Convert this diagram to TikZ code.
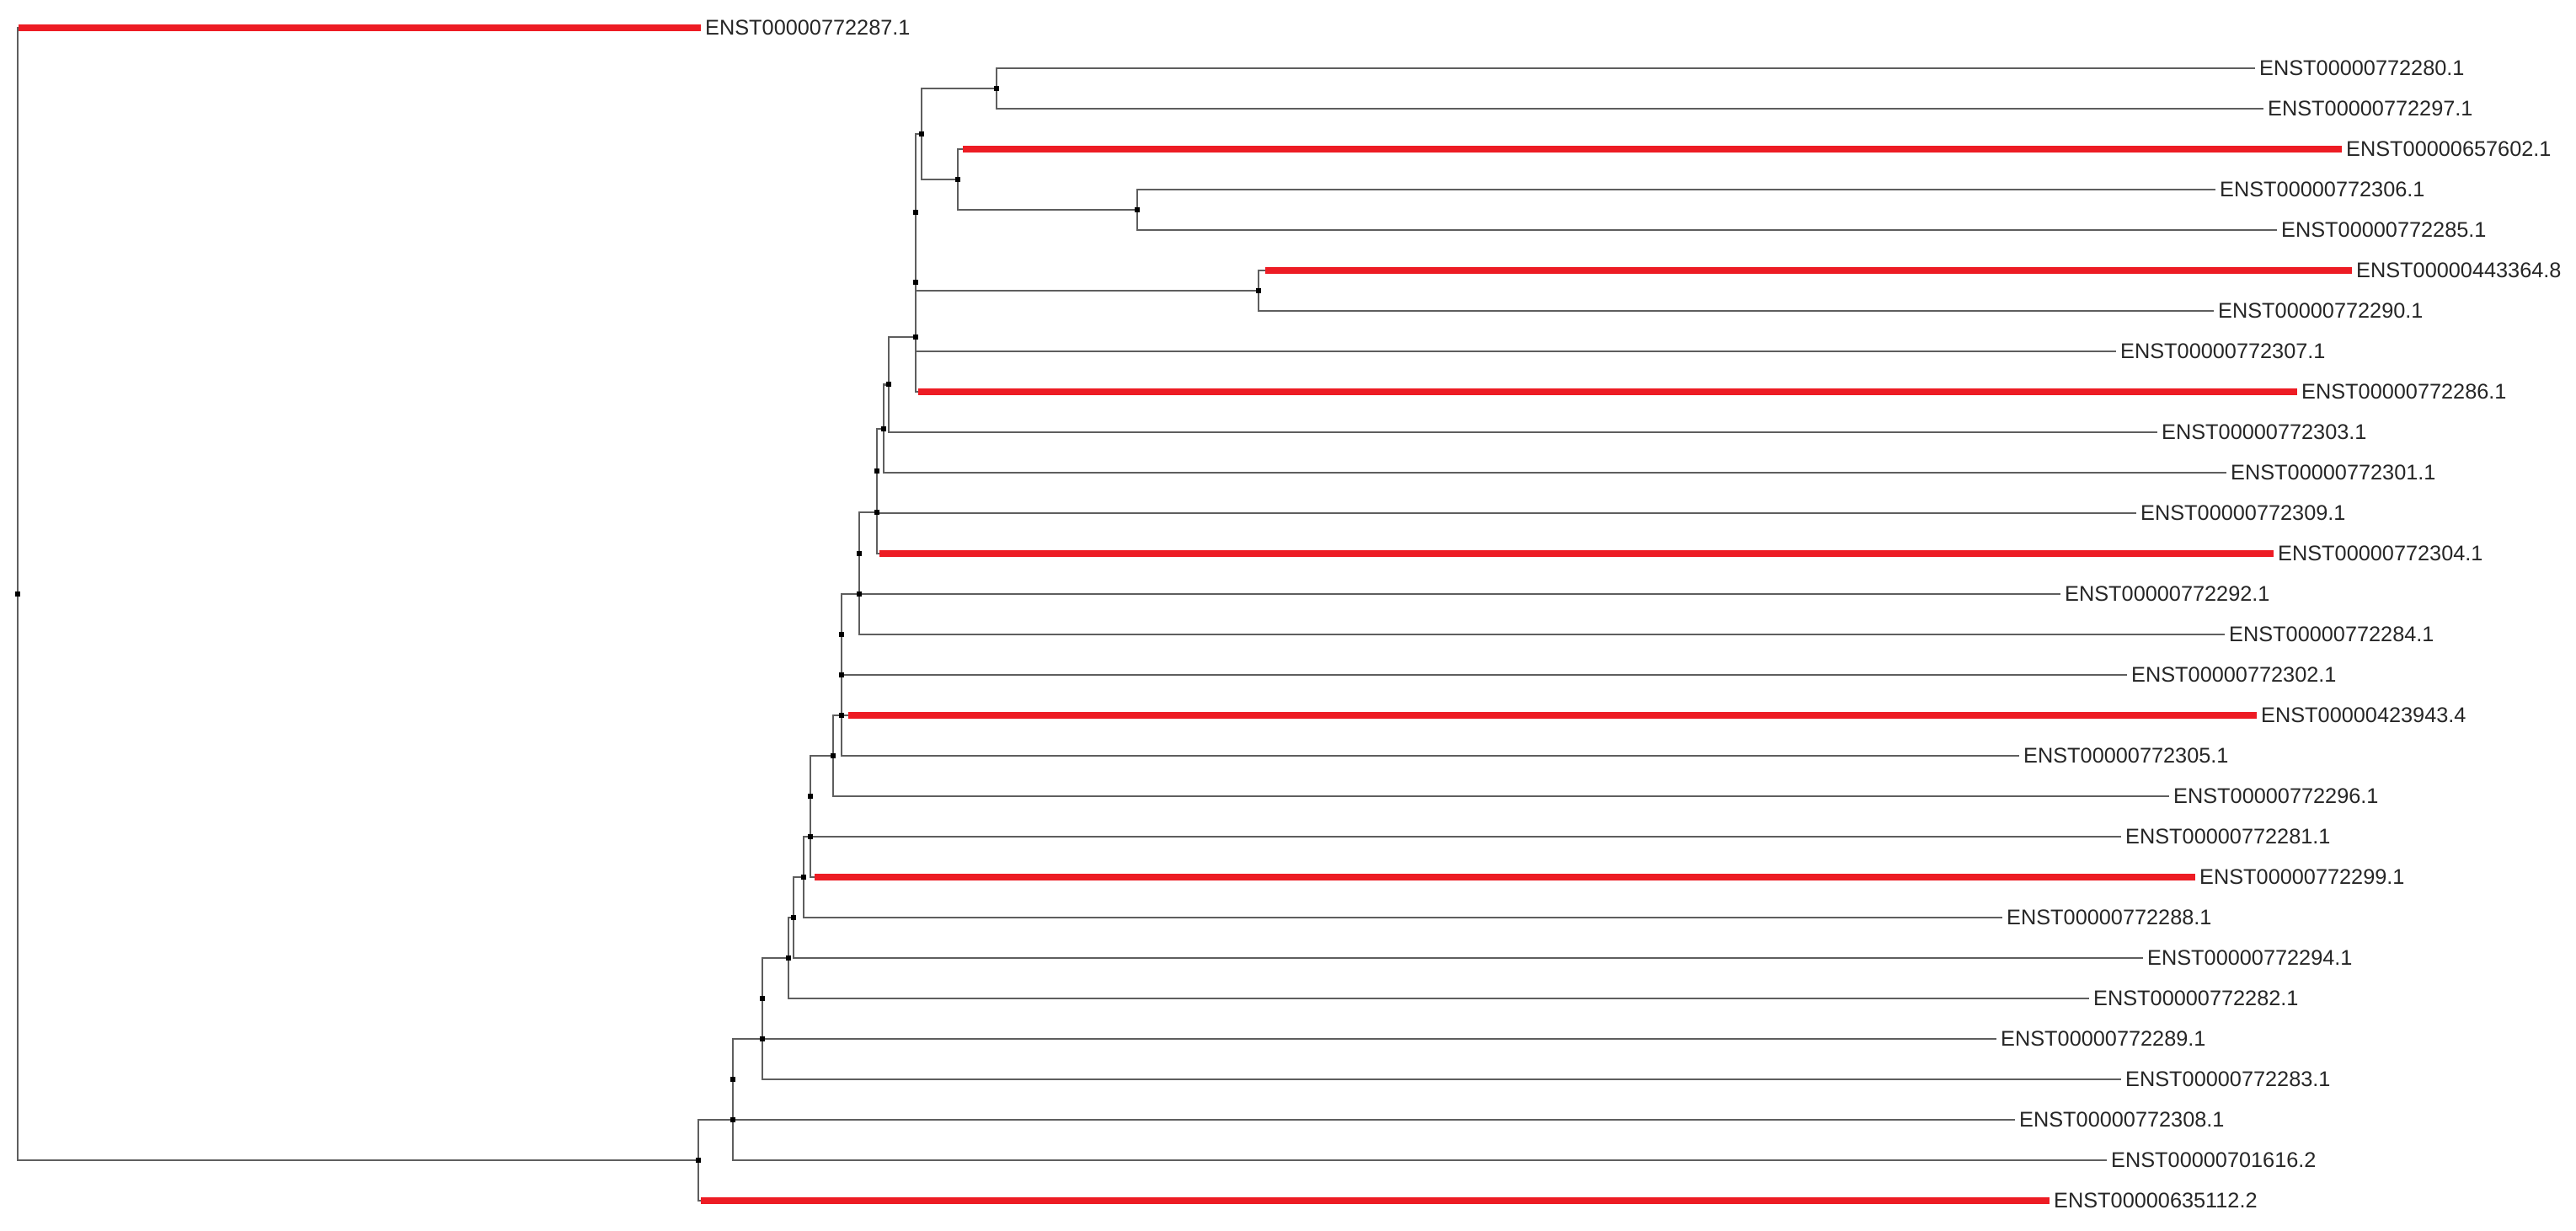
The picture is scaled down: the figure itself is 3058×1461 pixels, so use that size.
\documentclass[tikz,border=0pt]{standalone}
\usepackage{fontspec}
\setmainfont{Liberation Sans}
\usetikzlibrary{calc}
\definecolor{brgray}{HTML}{5E5E5E}
\definecolor{hired}{HTML}{ED1C24}
\begin{document}
\begin{tikzpicture}[x=1pt,y=-1pt,
  brline/.style={draw=brgray,line width=2.4pt,line join=miter,line cap=butt},
  redline/.style={draw=hired,line width=8pt,line cap=butt},
  ndot/.style={rectangle,fill=black,inner sep=0pt,minimum size=6pt},
  leaflab/.style={anchor=west,inner sep=0pt,xshift=5pt,font=\fontsize{25.3pt}{30pt}\selectfont,text=black!85}]
\useasboundingbox (0,0) rectangle (3058,1461);
% internal nodes
\coordinate (root) at (21,705);
\coordinate (nC) at (1183,105);
\coordinate (nE) at (1350,249);
\coordinate (nD) at (1137,213);
\coordinate (nA) at (1094,159);
\coordinate (nB) at (1494,345);
\coordinate (n1) at (1087,252);
\coordinate (n2) at (1087,334.5);
\coordinate (n3) at (1087,399.75);
\coordinate (n4) at (1055,456.4);
\coordinate (n5) at (1049,508.7);
\coordinate (n6) at (1041,558.8);
\coordinate (n7) at (1041,607.9);
\coordinate (n8) at (1020,656.5);
\coordinate (n9) at (1020,704.7);
\coordinate (n10) at (999,752.9);
\coordinate (n11) at (999,800.9);
\coordinate (n12) at (999,849);
\coordinate (n13) at (989,897);
\coordinate (n14) at (962,945);
\coordinate (n15) at (962,993);
\coordinate (n16) at (954,1041);
\coordinate (n17) at (942,1089);
\coordinate (n18) at (936,1137);
\coordinate (n19) at (905,1185);
\coordinate (n20) at (905,1233);
\coordinate (n21) at (870,1281);
\coordinate (n22) at (870,1329);
\coordinate (n23) at (829,1377);
% leaves
\foreach \i/\xe/\t in {1/832/772287.1,2/2677/772280.1,3/2687/772297.1,4/2780/657602.1,
  5/2630/772306.1,6/2703/772285.1,7/2792/443364.8,8/2628/772290.1,9/2512/772307.1,
  10/2727/772286.1,11/2561/772303.1,12/2643/772301.1,13/2536/772309.1,14/2699/772304.1,
  15/2446/772292.1,16/2641/772284.1,17/2525/772302.1,18/2679/423943.4,19/2397/772305.1,
  20/2575/772296.1,21/2518/772281.1,22/2606/772299.1,23/2377/772288.1,24/2544/772294.1,
  25/2480/772282.1,26/2370/772289.1,27/2518/772283.1,28/2392/772308.1,29/2501/701616.2,
  30/2433/635112.2}{
  \coordinate (l\i) at (\xe,{33+48*(\i-1)});
  \node[leaflab] (t\i) at (l\i) {ENST00000\t};
}
% branches
\draw[brline] (l2) -| (nC) |- (l3);
\draw[brline] (l5) -| (nE) |- (l6);
\draw[brline] (l4) -| (nD) |- (nE);
\draw[brline] (nC) -| (nA) |- (nD);
\draw[brline] (l7) -| (nB) |- (l8);
\draw[brline] (nA) -| (n1) |- (nB);
\draw[brline] (n1) -| (n2) |- (l9);
\draw[brline] (n2) -| (n3) |- (l10);
\draw[brline] (n3) -| (n4) |- (l11);
\draw[brline] (n4) -| (n5) |- (l12);
\draw[brline] (n5) -| (n6) |- (l13);
\draw[brline] (n6) -| (n7) |- (l14);
\draw[brline] (n7) -| (n8) |- (l15);
\draw[brline] (n8) -| (n9) |- (l16);
\draw[brline] (n9) -| (n10) |- (l17);
\draw[brline] (n10) -| (n11) |- (l18);
\draw[brline] (n11) -| (n12) |- (l19);
\draw[brline] (n12) -| (n13) |- (l20);
\draw[brline] (n13) -| (n14) |- (l21);
\draw[brline] (n14) -| (n15) |- (l22);
\draw[brline] (n15) -| (n16) |- (l23);
\draw[brline] (n16) -| (n17) |- (l24);
\draw[brline] (n17) -| (n18) |- (l25);
\draw[brline] (n18) -| (n19) |- (l26);
\draw[brline] (n19) -| (n20) |- (l27);
\draw[brline] (n20) -| (n21) |- (l28);
\draw[brline] (n21) -| (n22) |- (l29);
\draw[brline] (n22) -| (n23) |- (l30);
\draw[brline] (l1) -| (root) |- (n23);
% highlighted branches
\draw[redline] ($(root |- l1)+(1,0)$) -- (l1);
\draw[redline] ($(nD |- l4)+(6,0)$) -- (l4);
\draw[redline] ($(nB |- l7)+(8,0)$) -- (l7);
\draw[redline] ($(n3 |- l10)+(3,0)$) -- (l10);
\draw[redline] ($(n7 |- l14)+(3,0)$) -- (l14);
\draw[redline] ($(n11 |- l18)+(8,0)$) -- (l18);
\draw[redline] ($(n15 |- l22)+(5,0)$) -- (l22);
\draw[redline] ($(n23 |- l30)+(3,0)$) -- (l30);
% node dots
\foreach \n in {root,nA,nB,nC,nD,nE,n1,n2,n3,n4,n5,n6,n7,n8,n9,n10,n11,n12,n13,n14,n15,n16,n17,n18,n19,n20,n21,n22,n23}
  \node[ndot] (d\n) at (\n) {};
\end{tikzpicture}
\end{document}
